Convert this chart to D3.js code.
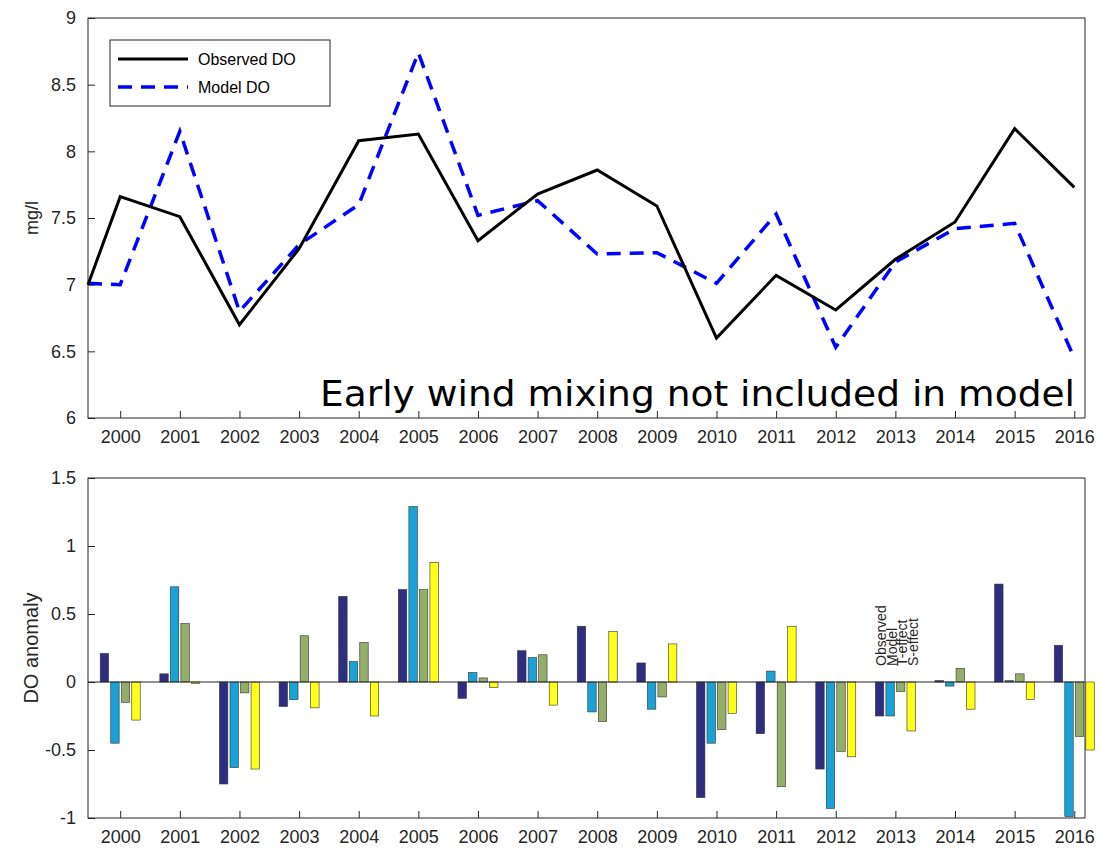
<!DOCTYPE html>
<html><head><meta charset="utf-8">
<script src="https://cdn.jsdelivr.net/npm/d3@7"></script>
<style>body{margin:0;background:#fff}text{font-family:"Liberation Sans",Arial,sans-serif}</style>
</head><body>
<script>
// data
const years = d3.range(2000, 2017);
const observed = [7.66,7.51,6.70,7.27,8.08,8.13,7.33,7.68,7.86,7.59,6.60,7.07,6.81,7.19,7.47,8.17,7.73];
const model = [7.0,8.15,6.80,7.30,7.60,8.74,7.52,7.63,7.23,7.24,7.01,7.53,6.53,7.17,7.42,7.46,6.45];
const startObs = 7.0, startModel = 7.01; // value at left edge
const seriesNames = ["Observed","Model","T-effect","S-effect"];
const seriesColors = ["#2e2d80","#1aa2d4","#94ae6a","#ffff1a"];
const anomObs = [0.21,0.06,-0.75,-0.18,0.63,0.68,-0.12,0.23,0.41,0.14,-0.85,-0.38,-0.64,-0.25,0.01,0.72,0.27];
const anomModel = [-0.45,0.70,-0.63,-0.13,0.15,1.29,0.07,0.18,-0.22,-0.20,-0.45,0.08,-0.93,-0.25,-0.03,0.01,-0.99];
const anomT = [-0.15,0.43,-0.08,0.34,0.29,0.68,0.03,0.20,-0.29,-0.11,-0.35,-0.77,-0.51,-0.07,0.10,0.06,-0.40];
const anomS = [-0.28,-0.01,-0.64,-0.19,-0.25,0.88,-0.04,-0.17,0.37,0.28,-0.23,0.41,-0.55,-0.36,-0.20,-0.13,-0.50];
const topTicks = [6,6.5,7,7.5,8,8.5,9];
const botTicks = [-1,-0.5,0,0.5,1,1.5];

const W = 1100, H = 851, L = 88, R = 1085;
const svg = d3.select("body").append("svg").attr("width", W).attr("height", H);
const x = d3.scaleLinear().domain([1999.46, 2016.18]).range([L, R]);

function axes(g, y, ticks, top, bottom, label, fmt) {
  g.append("rect").attr("x", L).attr("y", top).attr("width", R - L).attr("height", bottom - top)
    .attr("fill", "none").attr("stroke", "#262626").attr("stroke-width", 1);
  g.append("g").attr("transform", `translate(0,${bottom})`)
    .call(d3.axisBottom(x).tickValues(years).tickFormat(d3.format("d")).tickSizeInner(-7).tickSizeOuter(0).tickPadding(12))
    .call(a => { a.select(".domain").remove(); a.selectAll("text").style("font-size","18px").attr("fill","#262626"); a.selectAll("line").attr("stroke","#262626"); });
  g.append("g").attr("transform", `translate(${L},0)`)
    .call(d3.axisLeft(y).tickValues(ticks).tickFormat(fmt).tickSizeInner(-7).tickSizeOuter(0).tickPadding(12))
    .call(a => { a.select(".domain").remove(); a.selectAll("text").style("font-size","18px").attr("fill","#262626"); a.selectAll("line").attr("stroke","#262626"); });
  g.append("text").attr("transform", `translate(38,${(top + bottom) / 2}) rotate(-90)`)
    .attr("text-anchor", "middle").style("font-size", label === "mg/l" ? "18px" : "20px").attr("fill", "#262626").text(label);
}

// top panel
const yT = d3.scaleLinear().domain([6, 9]).range([418, 18]);
const gT = svg.append("g");
axes(gT, yT, topTicks, 18, 418, "mg/l", d => d);
const line = d3.line().x(d => x(d[0])).y(d => yT(d[1]));
const obsPts = [[1999.46, startObs]].concat(years.map((yr, i) => [yr, observed[i]]));
const modPts = [[1999.46, startModel]].concat(years.map((yr, i) => [yr, model[i]]));
gT.append("path").datum(modPts).attr("d", line).attr("fill","none").attr("stroke","#0000ff").attr("stroke-width",3.5).attr("stroke-dasharray","14,9");
gT.append("path").datum(obsPts).attr("d", line).attr("fill","none").attr("stroke","#000").attr("stroke-width",3);
// legend
const lg = gT.append("g");
lg.append("rect").attr("x",110).attr("y",40).attr("width",220).attr("height",66).attr("fill","#fff").attr("stroke","#262626");
lg.append("line").attr("x1",118).attr("x2",188).attr("y1",59).attr("y2",59).attr("stroke","#000").attr("stroke-width",3);
lg.append("line").attr("x1",118).attr("x2",188).attr("y1",87).attr("y2",87).attr("stroke","#0000ff").attr("stroke-width",3.5).attr("stroke-dasharray","14,9");
lg.append("text").attr("x",198).attr("y",65).style("font-size","16px").text("Observed DO");
lg.append("text").attr("x",198).attr("y",93).style("font-size","16px").text("Model DO");
gT.append("text").attr("x",1075).attr("y",406).attr("text-anchor","end")
  .style("font-family","'DejaVu Sans',Verdana,sans-serif").style("font-size","36px")
  .attr("textLength",755).attr("lengthAdjust","spacingAndGlyphs").text("Early wind mixing not included in model");

// bottom panel
const yB = d3.scaleLinear().domain([-1, 1.5]).range([818, 478]);
const gB = svg.append("g");
axes(gB, yB, botTicks, 478, 818, "DO anomaly", d => d);
const series = [anomObs, anomModel, anomT, anomS];
const xb = d3.scaleBand().domain(seriesNames).range([-20, 20]).paddingInner(0.2);
series.forEach((vals, s) => {
  gB.selectAll(null).data(vals).enter().append("rect")
    .attr("x", (d, i) => x(years[i]) + xb(seriesNames[s]))
    .attr("width", xb.bandwidth())
    .attr("y", d => yB(Math.max(0, d)))
    .attr("height", d => Math.abs(yB(d) - yB(0)))
    .attr("fill", seriesColors[s]).attr("stroke", "#333").attr("stroke-width", 0.6);
});
gB.append("line").attr("x1",L).attr("x2",R).attr("y1",yB(0)).attr("y2",yB(0)).attr("stroke","#262626");
// rotated series labels
seriesNames.forEach((n, s) => {
  gB.append("text").attr("transform", `translate(${x(2013) + xb(n) + 11},${yB(0) - 16}) rotate(-90)`)
    .style("font-size","14px").attr("fill","#262626").text(n);
});
</script>
</body></html>
